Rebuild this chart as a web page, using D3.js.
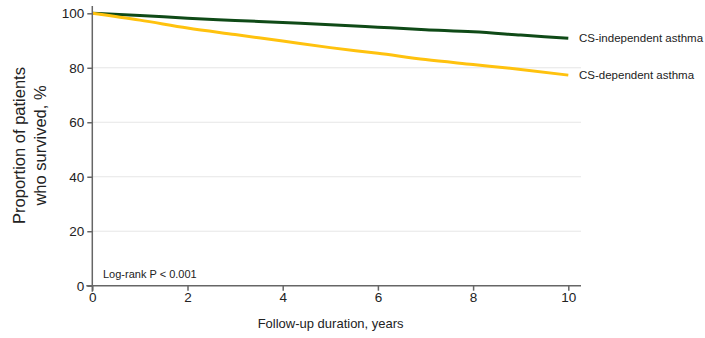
<!DOCTYPE html>
<html>
<head>
<meta charset="utf-8">
<script src="https://cdn.jsdelivr.net/npm/d3@7"></script>
<style>
  body { margin: 0; background: #fff; }
  svg { display: block; font-family: "Liberation Sans", Arial, sans-serif; }
</style>
</head>
<body>
<div id="chart"></div>
<script>
// follow-up years and survival (%)
var years = [0, 1, 2, 3, 4, 5, 6, 7, 8, 9, 10];
var csIndependent = [100, 99.2, 98.2, 97.4, 96.6, 95.8, 94.9, 94.0, 93.2, 92.0, 90.8];
var csDependent = [100, 97.5, 94.6, 92.2, 89.8, 87.4, 85.3, 83.0, 81.2, 79.4, 77.3];
var seriesNames = ['CS-independent asthma', 'CS-dependent asthma'];
var xTicks = [0, 2, 4, 6, 8, 10];
var yTicks = [0, 20, 40, 60, 80, 100];

var width = 705,
  height = 338,
  colors = ['#0f4a17', '#ffc20e'];

var svg = d3.select('#chart').append('svg')
  .attr('width', width)
  .attr('height', height);

var x = d3.scaleLinear().domain([0, 10]).range([92.3, 568.3]);
var y = d3.scaleLinear().domain([0, 100]).range([285.7, 13.3]);

// gridlines
svg.append('g')
  .selectAll('line')
  .data(yTicks.filter(function (d) { return d > 0 && d < 100; }))
  .enter()
  .append('line')
  .attr('x1', x(0))
  .attr('x2', 581)
  .attr('y1', function (d) { return y(d); })
  .attr('y2', function (d) { return y(d); })
  .attr('stroke', '#e6e6e6')
  .attr('stroke-width', 1);

// series lines
var line = d3.line()
  .x(function (d, i) { return x(years[i]); })
  .y(function (d) { return y(d); })
  .curve(d3.curveMonotoneX);

[csIndependent, csDependent].forEach(function (vals, k) {
  svg.append('path')
    .datum(vals)
    .attr('fill', 'none')
    .attr('stroke', colors[k])
    .attr('stroke-width', 3)
    .attr('d', line);

  svg.append('text')
    .attr('x', 579)
    .attr('y', y(vals[vals.length - 1]) + 4)
    .attr('font-size', 11.5)
    .attr('fill', '#222')
    .text(seriesNames[k]);
});

// axes
var xAxis = d3.axisBottom(x).tickValues(xTicks).tickSize(5).tickPadding(2);
var gx = svg.append('g')
  .attr('transform', 'translate(0,' + y(0) + ')')
  .call(xAxis);
gx.select('.domain').attr('d', 'M' + (x(0) - 6) + ',0H581');

var yAxis = d3.axisLeft(y).tickValues(yTicks).tickSize(5).tickPadding(3);
var gy = svg.append('g')
  .attr('transform', 'translate(' + x(0) + ',0)')
  .call(yAxis);
gy.select('.domain').attr('d', 'M0,6V' + (y(0) + 6));

svg.selectAll('.domain, .tick line')
  .attr('stroke', '#666')
  .attr('stroke-width', 1.5);
svg.selectAll('.tick text')
  .attr('font-size', 13.5)
  .attr('font-family', '"Liberation Sans", Arial, sans-serif')
  .attr('fill', '#222');

// axis titles
svg.append('text')
  .attr('x', (x(0) + 581) / 2 - 6)
  .attr('y', 328)
  .attr('text-anchor', 'middle')
  .attr('font-size', 13)
  .attr('fill', '#222')
  .text('Follow-up duration, years');

var ylab = svg.append('text')
  .attr('transform', 'translate(25,' + ((y(0) + y(100)) / 2 - 4) + ') rotate(-90)')
  .attr('text-anchor', 'middle')
  .attr('font-size', 16.5)
  .attr('fill', '#222');
ylab.append('tspan').attr('x', 0).attr('dy', 0).text('Proportion of patients');
ylab.append('tspan').attr('x', 0).attr('dy', 21).text('who survived, %');

svg.append('text')
  .attr('x', 103)
  .attr('y', 278)
  .attr('font-size', 11)
  .attr('fill', '#222')
  .text('Log-rank P < 0.001');
</script>
</body>
</html>
